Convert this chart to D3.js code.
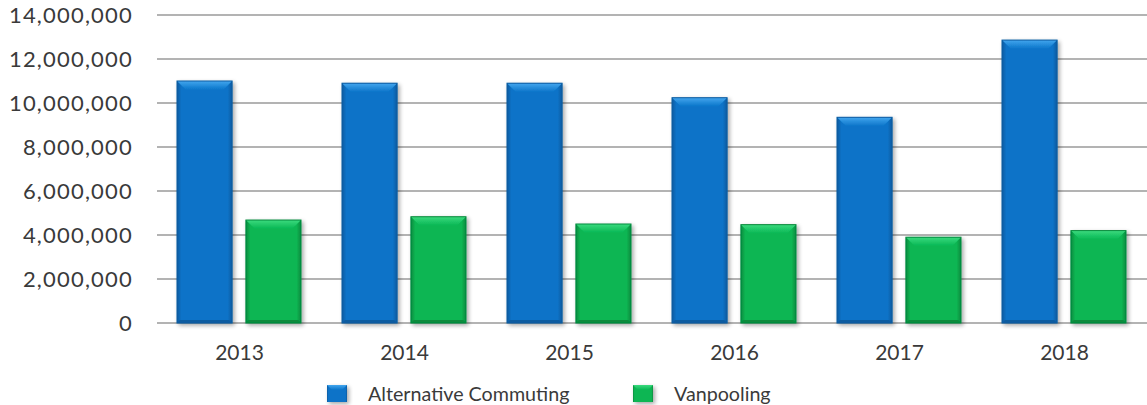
<!DOCTYPE html>
<html><head><meta charset="utf-8">
<script src="https://cdn.jsdelivr.net/npm/d3@7"></script>
<style>body{margin:0;background:#fff}svg{display:block}</style>
</head><body>
<svg id="c" width="1147" height="405"></svg>
<script>
const categories = ["2013","2014","2015","2016","2017","2018"];
const seriesNames = ["Alternative Commuting","Vanpooling"];
const altCommuting = [11000000,10900000,10900000,10240000,9350000,12860000];
const vanpooling = [4680000,4830000,4500000,4470000,3900000,4200000];
const yTicks = [0,2000000,4000000,6000000,8000000,10000000,12000000,14000000];

const W=1147,H=405, L=157, R=1147, T=15, B=323;
const svg=d3.select("#c");
const font="Lato, 'Open Sans', sans-serif";
const x=d3.scaleBand().domain(categories).range([L,R]).paddingInner(0).paddingOuter(0);
const x1=d3.scaleBand().domain(seriesNames).range([20,144]).paddingInner(0.2);
const y=d3.scaleLinear().domain([0,14000000]).range([B,T]);
const colors={ "Alternative Commuting":{base:"#0873C8",light:"#43A6EE",dark:"#0A5BA0"},
               "Vanpooling":{base:"#07B653",light:"#3BDA7E",dark:"#078B3E"}};

const defs=svg.append("defs");
const f=defs.append("filter").attr("id","sh").attr("x","-20%").attr("y","-20%").attr("width","150%").attr("height","150%");
f.append("feGaussianBlur").attr("in","SourceAlpha").attr("stdDeviation",2.2).attr("result","b");
f.append("feOffset").attr("dx",2).attr("dy",2).attr("result","o");
f.append("feComponentTransfer").append("feFuncA").attr("type","linear").attr("slope",0.35);
const m=f.append("feMerge");m.append("feMergeNode");m.append("feMergeNode").attr("in","SourceGraphic");
seriesNames.forEach((s,i)=>{
  const g=defs.append("linearGradient").attr("id","g"+i).attr("x1",0).attr("x2",1).attr("y1",0).attr("y2",0);
  g.append("stop").attr("offset","0").attr("stop-color",colors[s].dark);
  g.append("stop").attr("offset","0.08").attr("stop-color",colors[s].base);
  g.append("stop").attr("offset","0.92").attr("stop-color",colors[s].base);
  g.append("stop").attr("offset","1").attr("stop-color",colors[s].dark);
  const t=defs.append("linearGradient").attr("id","t"+i).attr("x1",0).attr("x2",0).attr("y1",0).attr("y2",1);
  t.append("stop").attr("offset","0").attr("stop-color",colors[s].light);
  t.append("stop").attr("offset","1").attr("stop-color",colors[s].base);
});

// y axis gridlines
const yAxis=d3.axisLeft(y).tickValues(yTicks).tickSize(0).tickPadding(0).tickFormat(d3.format(","));
const ga=svg.append("g").attr("transform",`translate(${L-24},0)`).call(yAxis);
ga.select(".domain").remove();
ga.selectAll("text").attr("font-family",font).attr("font-size",22)
  .attr("letter-spacing","1.2px").attr("fill","#3a3a3a").attr("dy","0.35em");
svg.append("g").selectAll("line").data(yTicks).join("line")
  .attr("x1",L).attr("x2",R).attr("y1",d=>y(d)).attr("y2",d=>y(d))
  .attr("stroke","#9a9a9a").attr("stroke-width",1.6);

// bars
const data=categories.map((c,i)=>({c,vals:[altCommuting[i],vanpooling[i]]}));
const groups=svg.append("g").selectAll("g").data(data).join("g")
  .attr("transform",d=>`translate(${x(d.c)},0)`);
groups.each(function(d){
  const g=d3.select(this);
  seriesNames.forEach((s,i)=>{
    const bx=x1(s), bw=x1.bandwidth(), by=y(d.vals[i]), bh=y(0)-by;
    const bar=g.append("g").attr("filter","url(#sh)");
    bar.append("rect").attr("x",bx).attr("y",by).attr("width",bw).attr("height",bh).attr("fill",`url(#g${i})`);
    const bv=9;
    bar.append("path").attr("d",`M${bx},${by}L${bx+bw},${by}L${bx+bw-bv},${by+bv}L${bx+bv},${by+bv}Z`).attr("fill",`url(#t${i})`);
    bar.append("path").attr("d",`M${bx},${by+bh}L${bx+bw},${by+bh}L${bx+bw-3},${by+bh-3}L${bx+3},${by+bh-3}Z`).attr("fill",colors[s].dark);
    bar.append("rect").attr("x",bx).attr("y",by).attr("width",bw).attr("height",bh).attr("fill","none").attr("stroke",colors[s].dark).attr("stroke-width",1);
  });
});

// x axis labels
const xAxis=d3.axisBottom(x).tickSize(0).tickPadding(0);
const gx=svg.append("g").attr("transform",`translate(0,${B+30})`).call(xAxis);
gx.select(".domain").remove();
gx.selectAll("text").attr("font-family",font).attr("font-size",21).attr("fill","#3a3a3a").attr("dy","0.35em");

// legend
const legX=[327,633];
const lg=svg.append("g").selectAll("g").data(seriesNames).join("g")
  .attr("transform",(d,i)=>`translate(${legX[i]},385)`);
lg.append("rect").attr("width",20).attr("height",17).attr("fill",(d,i)=>`url(#g${i})`).attr("filter","url(#sh)");
lg.append("path").attr("d","M0,0L20,0L15,5L5,5Z").attr("fill",(d,i)=>`url(#t${i})`);
lg.append("text").attr("x",41).attr("y",9).attr("dy","0.35em").attr("font-family",font).attr("font-size",19.7).attr("fill","#3a3a3a").text(d=>d);
</script>
</body></html>
